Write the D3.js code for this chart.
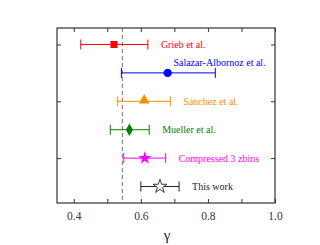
<!DOCTYPE html>
<html>
<head>
<meta charset="utf-8">
<script src="https://cdn.jsdelivr.net/npm/d3@7"></script>
<style>
  body { margin: 0; background: #fff; }
  svg text { font-family: "Liberation Serif", "Times New Roman", "DejaVu Serif", serif !important; }
</style>
</head>
<body>
<svg id="chart" width="320" height="245"></svg>
<script>
// measurements of gamma, one row per study (top to bottom)
var studies = ['Grieb et al.', 'Salazar-Albornoz et al.', 'S\u00e1nchez et al.', 'Mueller et al.', 'Compressed 3 zbins', 'This work'];
var gammaVal = [0.52, 0.68, 0.61, 0.566, 0.612, 0.657];
var gammaLo  = [0.421, 0.542, 0.531, 0.509, 0.549, 0.600];
var gammaHi  = [0.621, 0.822, 0.688, 0.625, 0.674, 0.714];
var colors   = ['#ff0000', '#0000ff', '#ff8c00', '#008000', '#ff00ff', '#222222'];
var symbols  = ['square', 'circle', 'triangle', 'diamond', 'star', 'openstar'];
var gammaRef = 0.545; // dashed reference line
var xTicks = [0.4, 0.5, 0.6, 0.7, 0.8, 0.9, 1.0];
var xTickLabels = ['0.4', '', '0.6', '', '0.8', '', '1.0'];

var serif = '"Liberation Serif", "Times New Roman", serif';
var margin = {left: 57, right: 45, top: 28, bottom: 42};
var W = 320, H = 245;
var svg = d3.select('#chart');
var plotW = W - margin.left - margin.right;
var plotH = H - margin.top - margin.bottom;

var x = d3.scaleLinear().domain([0.35, 1.0]).range([0, plotW]);
var y = d3.scaleLinear().domain([-0.58, studies.length - 1 + 0.58]).range([0, plotH]);

var g = svg.append('g').attr('transform', 'translate(' + margin.left + ',' + margin.top + ')');

// dashed reference
g.append('line')
  .attr('x1', x(gammaRef)).attr('x2', x(gammaRef))
  .attr('y1', 0).attr('y2', plotH)
  .attr('stroke', '#888').attr('stroke-width', 1.2)
  .attr('stroke-dasharray', '4,3');

// axes (ticks inward)
var axisColor = '#333';
function styleAxis(sel){
  sel.attr('font-family', serif);
  sel.select('.domain').remove();
  sel.selectAll('.tick line').attr('stroke', axisColor);
  sel.selectAll('.tick text').attr('fill', '#333').attr('font-size', '11.5px');
}
g.append('g').attr('transform', 'translate(0,' + plotH + ')')
  .call(d3.axisBottom(x).tickValues(xTicks).tickSizeInner(-4).tickSizeOuter(0).tickPadding(9)
    .tickFormat(function(d, i){ return xTickLabels[i]; }))
  .call(styleAxis);
g.append('g')
  .call(d3.axisTop(x).tickValues(xTicks).tickSizeInner(-4).tickSizeOuter(0).tickFormat(''))
  .call(styleAxis);
var yTicks = [0, 2, 4];
g.append('g')
  .call(d3.axisLeft(y).tickValues(yTicks).tickSizeInner(-4).tickSizeOuter(0).tickFormat(''))
  .call(styleAxis);
g.append('g').attr('transform', 'translate(' + plotW + ',0)')
  .call(d3.axisRight(y).tickValues(yTicks).tickSizeInner(-4).tickSizeOuter(0).tickFormat(''))
  .call(styleAxis);

g.append('rect').attr('width', plotW).attr('height', plotH)
  .attr('fill', 'none').attr('stroke', axisColor).attr('stroke-width', 1.2);

// error bars
var rows = g.selectAll('g.row').data(studies).enter().append('g').attr('class', 'row')
  .attr('transform', function(d, i){ return 'translate(0,' + y(i) + ')'; });

rows.append('line')
  .attr('x1', function(d, i){ return x(gammaLo[i]); })
  .attr('x2', function(d, i){ return x(gammaHi[i]); })
  .attr('stroke', function(d, i){ return colors[i]; }).attr('stroke-width', 1);
rows.append('line')
  .attr('x1', function(d, i){ return x(gammaLo[i]); })
  .attr('x2', function(d, i){ return x(gammaLo[i]); })
  .attr('y1', -5).attr('y2', 5)
  .attr('stroke', function(d, i){ return colors[i]; });
rows.append('line')
  .attr('x1', function(d, i){ return x(gammaHi[i]); })
  .attr('x2', function(d, i){ return x(gammaHi[i]); })
  .attr('y1', -5).attr('y2', 5)
  .attr('stroke', function(d, i){ return colors[i]; });

var symType = {
  square: d3.symbolSquare, circle: d3.symbolCircle, triangle: d3.symbolTriangle,
  diamond: d3.symbolDiamond, star: d3.symbolStar, openstar: d3.symbolStar
};
var symSize = {square: 50, circle: 55, triangle: 50, diamond: 45, star: 55, openstar: 60};
rows.append('path')
  .attr('transform', function(d, i){
    return 'translate(' + x(gammaVal[i]) + ',' + (symbols[i] == 'triangle' ? -1 : 0) + ')';
  })
  .attr('d', function(d, i){ return d3.symbol().type(symType[symbols[i]]).size(symSize[symbols[i]])(); })
  .attr('fill', function(d, i){ return symbols[i] == 'openstar' ? '#fff' : colors[i]; })
  .attr('stroke', function(d, i){ return symbols[i] == 'openstar' ? colors[i] : 'none'; })
  .attr('stroke-width', 0.9);

// labels: to the right of the bar, except Salazar which sits above it
rows.append('text')
  .attr('x', function(d, i){ return i == 1 ? x(gammaLo[i]) + 52 : x(gammaHi[i]) + 13; })
  .attr('y', function(d, i){ return i == 1 ? -10 : 0; })
  .attr('dy', '0.35em')
  .attr('font-family', serif)
  .attr('font-size', '10px')
  .attr('fill', function(d, i){ return colors[i]; })
  .text(function(d){ return d; });

// axis title
svg.append('text')
  .attr('x', margin.left + plotW / 2 + 1).attr('y', H - 5)
  .attr('text-anchor', 'middle')
  .attr('font-family', serif)
  .attr('font-size', '15px').attr('fill', '#222')
  .text('\u03b3');
</script>
</body>
</html>
